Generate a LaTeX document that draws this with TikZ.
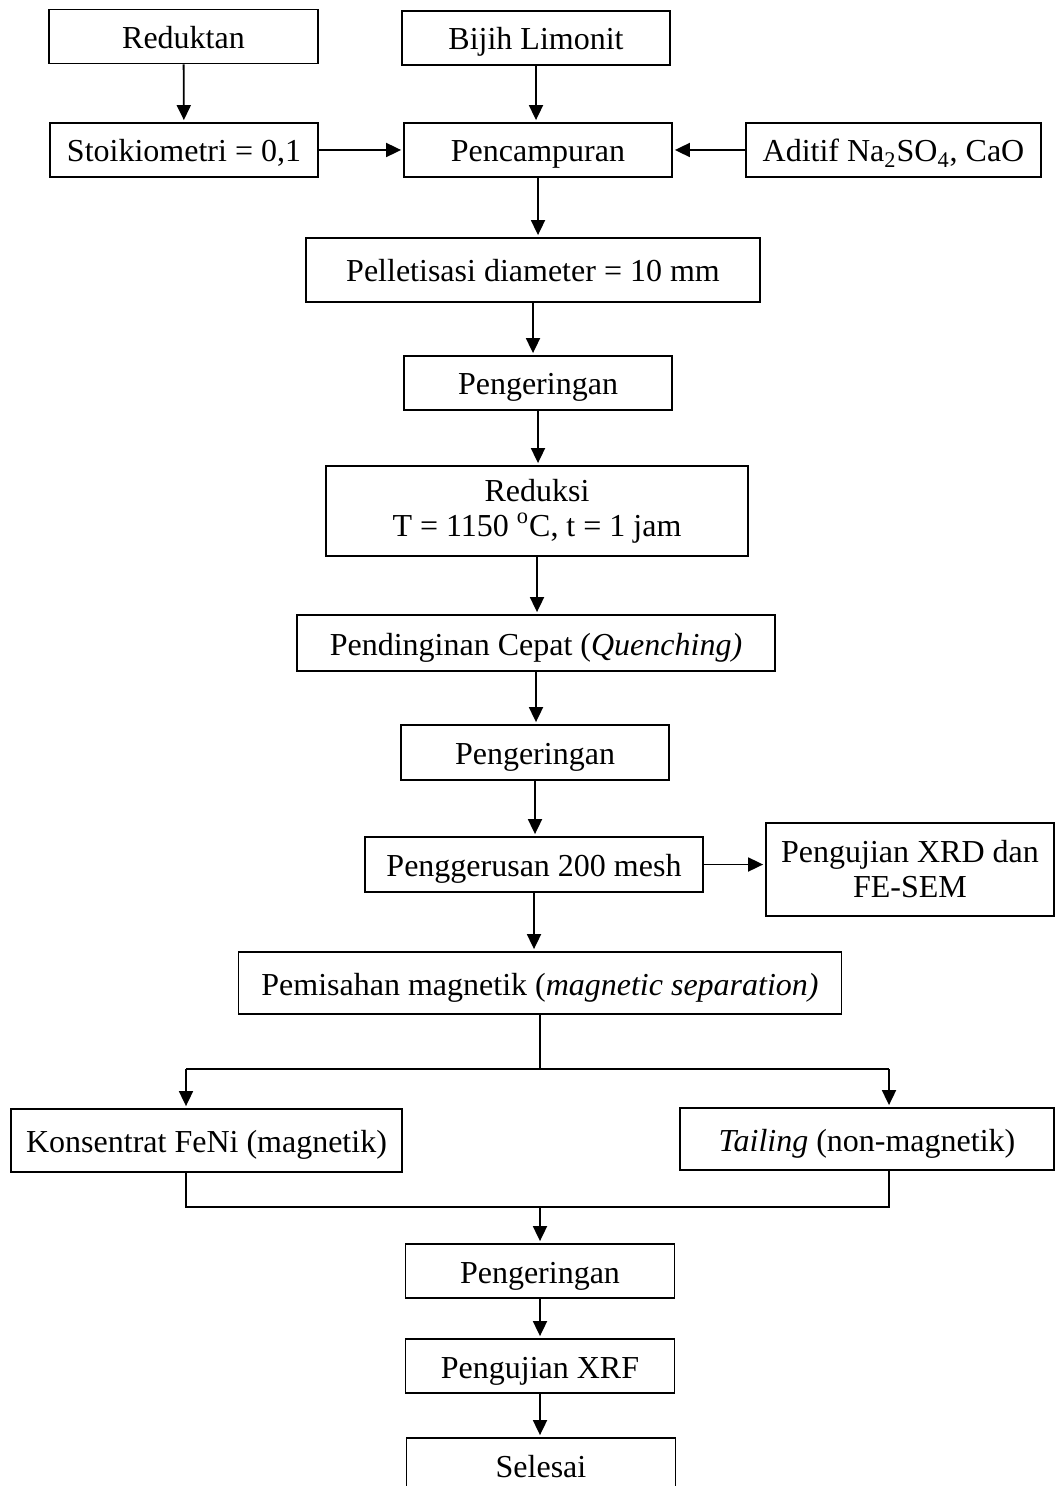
\documentclass[tikz,border=0pt]{standalone}
\usepackage{fontspec}
\setmainfont{Liberation Serif}
\usetikzlibrary{arrows.meta,positioning,calc}

\tikzset{
  box/.style={draw, line width=0.9pt, align=center, inner sep=2pt,
    font=\fontsize{16}{17.5}\selectfont, text height=12pt, text depth=0pt},
  twoline/.style={text height=, text depth=},
  arr/.style={line width=0.9pt, -{Triangle[width=7pt,length=7.5pt]}, shorten >=1pt},
  link/.style={line width=0.9pt}
}

\begin{document}
\begin{tikzpicture}[x=0.5pt, y=-0.5pt]
    % page frame, bottom box runs off the page
    \clip (0,0) rectangle (1055,1486);

    % raw materials
    \node[box, minimum width=134.5pt, minimum height=27pt] (reduktan) at (183.5,36.5) {Reduktan};
    \node[box, minimum width=134pt, minimum height=27pt] (bijih) at (536,38) {Bijih Limonit};
    \node[box, minimum width=134pt, minimum height=27pt] (stoik) at (184,150) {Stoikiometri = 0,1};
    \node[box, minimum width=134pt, minimum height=27pt] (campur) at (538,150) {Pencampuran};
    \node[box, minimum width=147.5pt, minimum height=27pt] (aditif) at (893.5,150) {Aditif Na\textsubscript{2}SO\textsubscript{4}, CaO};

    % main line
    \node[box, minimum width=227pt, minimum height=32pt] (pellet) at (533,270) {Pelletisasi diameter = 10 mm};
    \node[box, minimum width=134pt, minimum height=27pt] (kering1) at (538,383) {Pengeringan};
    \node[box, twoline, minimum width=211pt, minimum height=45pt] (reduksi) at (537,511) {Reduksi\\T = 1150 \textsuperscript{o}C, t = 1 jam};
    \node[box, minimum width=239pt, minimum height=28pt] (dingin) at (536,643) {Pendinginan Cepat (\textit{Quenching)}};
    \node[box, minimum width=134pt, minimum height=27.5pt] (kering2) at (535,752.5) {Pengeringan};
    \node[box, minimum width=169pt, minimum height=27.5pt] (gerus) at (534,864.5) {Penggerusan 200 mesh};
    \node[box, twoline, minimum width=144pt, minimum height=46.5pt] (xrd) at (910,869.5) {Pengujian XRD dan\\FE-SEM};
    \node[box, minimum width=301.5pt, minimum height=31pt] (pisah) at (540,983) {Pemisahan magnetik (\textit{magnetic separation)}};

    % products
    \node[box, minimum width=195.5pt, minimum height=31.5pt] (konsen) at (206.5,1140.5) {Konsentrat FeNi (magnetik)};
    \node[box, minimum width=187pt, minimum height=31pt] (tailing) at (867,1139) {\textit{Tailing} (non-magnetik)};
    \node[box, minimum width=134.5pt, minimum height=27pt] (kering3) at (540,1271) {Pengeringan};
    \node[box, minimum width=134.5pt, minimum height=27pt] (xrf) at (540,1366) {Pengujian XRF};
    \node[box, minimum width=134.5pt, minimum height=27pt] (selesai) at (541,1465) {Selesai};

    % branch and merge points
    \coordinate (splitL) at (186,1069);
    \coordinate (splitR) at (889,1069);
    \coordinate (mergeL) at (186,1207);
    \coordinate (mergeR) at (889,1207);
    \coordinate (mergeM) at (540,1207);

    \draw[arr] (reduktan) -- (stoik);
    \draw[arr] (bijih.south) -- (bijih.south |- campur.north);
    \draw[arr] (stoik) -- (campur);
    \draw[arr] (aditif) -- (campur);
    \draw[arr] (campur.south) -- (campur.south |- pellet.north);
    \draw[arr] (pellet.south) -- (pellet.south |- kering1.north);
    \draw[arr] (kering1.south) -- (kering1.south |- reduksi.north);
    \draw[arr] (reduksi.south) -- (reduksi.south |- dingin.north);
    \draw[arr] (dingin.south) -- (dingin.south |- kering2.north);
    \draw[arr] (kering2.south) -- (kering2.south |- gerus.north);
    \draw[arr] (gerus.east) -- (gerus.east -| xrd.west);
    \draw[arr] (gerus.south) -- (gerus.south |- pisah.north);

    \draw[link] (pisah.south) -- (pisah.south |- splitL);
    \draw[link] (splitL) -- (splitR);
    \draw[arr] (splitL) -- (splitL |- konsen.north);
    \draw[arr] (splitR) -- (splitR |- tailing.north);

    \draw[link] (splitL |- konsen.south) -- (mergeL) -- (mergeR) -- (splitR |- tailing.south);
    \draw[arr] (mergeM) -- (kering3);
    \draw[arr] (kering3) -- (xrf);
    \draw[arr] (xrf.south) -- (xrf.south |- selesai.north);
\end{tikzpicture}
\end{document}
